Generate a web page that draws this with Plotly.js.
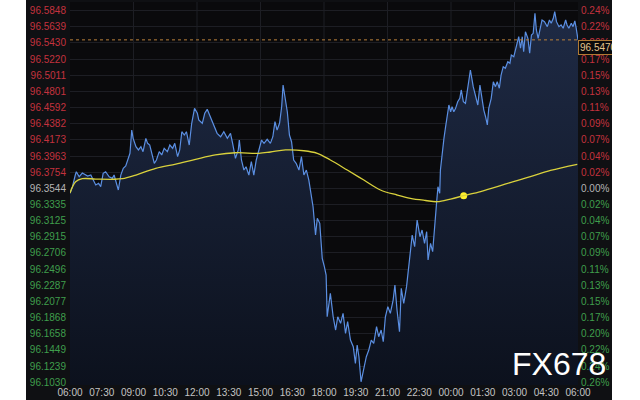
<!DOCTYPE html>
<html>
<head>
<meta charset="utf-8">
<script src="https://cdn.plot.ly/plotly-3.0.1.min.js"></script>
<style>
  html, body { margin:0; padding:0; background:#ffffff; width:640px; height:400px; overflow:hidden; }
  #chart { position:absolute; left:26px; top:0; width:586px; height:400px; }
</style>
</head>
<body>
<div id="chart"></div>
<script>
// ---- data: minutes after 06:00 and USD index price ----
const times = [
  0,7,15,18,26,35,50,59,66,73,
  81,87,94,101,111,120,125,132,137,144,
  151,158,164,170,175,179,187,194,201,207,
  215,220,226,232,239,245,253,260,267,276,
  283,291,297,305,311,317,324,330,338,345,
  353,361,365,375,382,389,398,408,417,427,
  436,446,455,461,469,477,480,486,493,499,
  507,514,521,528,535,543,550,559,568,575,
  581,587,594,600,604,609,616,622,628,634,
  641,649,656,663,670,677,682,689,696,701,
  708,715,721,726,729,738,746,753,759,767,
  774,781,787,795,803,809,814,819,825,833,
  840,847,854,861,869,875,882,888,894,901,
  908,916,921,927,934,939,946,954,959,965,
  970,977,984,992,998,1005,1011,1015,1022,1028,
  1033,1039,1043,1048,1050,1055,1060,1064,1069,1074,
  1079,1083,1088,1093,1099,1105,1109,1115,1121,1128,
  1135,1143,1149,1156,1162,1168,1173,1178,1183,1187,
  1194,1200,1206,1211,1217,1222,1228,1234,1241,1247,
  1251,1258,1263,1269,1272,1277,1282,1286,1291,1298,
  1303,1308,1313,1318,1322,1327,1334,1338,1345,1353,
  1359,1364,1370,1374,1379,1386,1392,1398,1405,1409,
  1414,1421,1426,1431,1435,1438,1440
];
const prices = [
  96.3480,96.3566,96.3717,96.3760,96.3695,96.3743,96.3704,96.3717,96.3652,96.3588,
  96.3610,96.3566,96.3739,96.3760,96.3695,96.3674,96.3717,96.3610,96.3523,96.3717,
  96.3804,96.3834,96.3912,96.3999,96.4301,96.4193,96.4084,96.4042,96.4084,96.4020,
  96.4193,96.4128,96.4106,96.3977,96.3869,96.3912,96.4020,96.3977,96.4063,96.4020,
  96.4106,96.4063,96.4128,96.3955,96.4042,96.4279,96.4236,96.4279,96.4106,96.4388,
  96.4582,96.4518,96.4431,96.4388,96.4518,96.4569,96.4473,96.4366,96.4258,96.4214,
  96.4279,96.4193,96.4258,96.4128,96.3934,96.4042,96.4171,96.3912,96.3782,96.3825,
  96.3717,96.3890,96.3717,96.3912,96.4020,96.4171,96.4128,96.4180,96.4128,96.4214,
  96.4409,96.4301,96.4388,96.4603,96.4885,96.4712,96.4538,96.4236,96.4149,96.3912,
  96.3869,96.3782,96.3955,96.3717,96.3782,96.3652,96.3480,96.3306,96.2939,96.3156,
  96.3091,96.2637,96.2528,96.2420,96.1879,96.2183,96.1879,96.1707,96.1879,96.1794,
  96.1924,96.1664,96.1815,96.1577,96.1490,96.1275,96.1512,96.1361,96.1036,96.1188,
  96.1361,96.1448,96.1577,96.1534,96.1750,96.1620,96.1707,96.1555,96.1879,96.2009,
  96.1924,96.2096,96.2291,96.1966,96.1685,96.2248,96.2053,96.2269,96.2485,96.2702,
  96.2939,96.2787,96.3134,96.2917,96.3004,96.2831,96.2982,96.2615,96.2831,96.2723,
  96.3069,96.3350,96.3566,96.3480,96.3782,96.4020,96.4193,96.4323,96.4495,96.4625,
  96.4538,96.4603,96.4538,96.4582,96.4668,96.4712,96.4820,96.4668,96.4647,96.4885,
  96.5079,96.4863,96.4755,96.4625,96.4885,96.4690,96.4560,96.4473,96.4366,96.4582,
  96.4712,96.4927,96.4863,96.4927,96.4842,96.5014,96.5122,96.5101,96.5187,96.5166,
  96.5274,96.5252,96.5361,96.5446,96.5511,96.5361,96.5511,96.5317,96.5576,96.5490,
  96.5296,96.5533,96.5555,96.5815,96.5598,96.5490,96.5620,96.5728,96.5706,96.5641,
  96.5728,96.5685,96.5750,96.5835,96.5706,96.5641,96.5663,96.5620,96.5728,96.5663,
  96.5620,96.5685,96.5641,96.5715,96.5620,96.5511,96.5470
];
// moving average line
const maTimes = [0,16,35,73,120,149,187,243,300,356,412,469,535,568,611,663,701,738,786,833,880,927,965,1008,1041,1079,1116,1164,1211,1257,1305,1362,1438];
const maValues = [96.3484,96.3630,96.3669,96.3665,96.3662,96.3669,96.3717,96.3804,96.3860,96.3921,96.3977,96.4006,96.3999,96.4016,96.4042,96.4032,96.3999,96.3912,96.3782,96.3652,96.3523,96.3458,96.3415,96.3387,96.3371,96.3406,96.3449,96.3503,96.3566,96.3633,96.3695,96.3776,96.3856];
const dotTime = [1116];
const dotValue = [96.3449];

const prevClose = 96.3544;
const lastPriceLabel = '96.5470';

// axis labels
const priceLabels = ['96.5848','96.5639','96.5430','96.5220','96.5011','96.4801','96.4592','96.4382','96.4173','96.3963','96.3754','96.3544','96.3335','96.3125','96.2915','96.2706','96.2496','96.2287','96.2077','96.1868','96.1658','96.1449','96.1239','96.1030'];
const pctLabels = ['0.24%','0.22%','0.20%','0.17%','0.15%','0.13%','0.11%','0.09%','0.07%','0.04%','0.02%','0.00%','0.02%','0.04%','0.07%','0.09%','0.11%','0.13%','0.15%','0.17%','0.20%','0.22%','0.24%','0.26%'];
const timeLabels = ['06:00','07:30','09:00','10:30','12:00','13:30','15:00','16:30','18:00','19:30','21:00','22:30','00:00','01:30','03:00','04:30','06:00'];
const timeTicks = [0,90,180,270,360,450,540,630,720,810,900,990,1080,1170,1260,1350,1440];
const gridTimes = [180,360,540,720,900,1080,1260];

// ---- build ----
const UP = '#c4323e', DOWN = '#3f9e4c', FLAT = '#b4b4b4';
const priceVals = priceLabels.map(Number);
function colorFor(v){ const d = v - prevClose; return Math.abs(d) < 1e-6 ? FLAT : (d > 0 ? UP : DOWN); }
const leftText = priceLabels.map((s,i)=>'<span style="color:'+colorFor(priceVals[i])+'">'+s+'</span>');
const rightText = pctLabels.map((s,i)=>'<span style="color:'+colorFor(priceVals[i])+'">'+s+'</span>');

const yMin = 96.0994, yMax = 96.5961;
const font = 'Liberation Sans, Arial, sans-serif';

const traces = [
  {
    x: times, y: prices, type:'scatter', mode:'lines',
    line:{color:'#5b8fe2', width:1.2},
    fill:'tozeroy',
    fillgradient:{type:'vertical', start:yMin, stop:yMax,
      colorscale:[[0,'#0c111d'],[1,'#1f2b46']]},
    hoverinfo:'skip'
  },
  {
    x: maTimes, y: maValues, type:'scatter', mode:'lines', yaxis:'y2',
    line:{color:'#d9d13c', width:1.3, shape:'spline', smoothing:1},
    hoverinfo:'skip'
  },
  {
    x: dotTime, y: dotValue, type:'scatter', mode:'markers',
    marker:{color:'#fff02a', size:7},
    hoverinfo:'skip'
  }
];

const shapes = gridTimes.map(t=>({
  type:'line', xref:'x', yref:'paper', x0:t, x1:t, y0:0, y1:1,
  line:{color:'#1d1e24', width:1}, layer:'below'
}));
shapes.push({
  type:'line', xref:'paper', yref:'y', x0:0, x1:1,
  y0:Number(lastPriceLabel), y1:Number(lastPriceLabel),
  line:{color:'#b9803a', width:1, dash:'dot'}, layer:'above'
});

const layout = {
  width:586, height:400,
  margin:{l:44, r:34, t:2, b:15, pad:0},
  paper_bgcolor:'#0f1013',
  plot_bgcolor:'#0a0a0c',
  showlegend:false,
  xaxis:{
    range:[0,1440], tickmode:'array', tickvals:timeTicks, ticktext:timeLabels,
    showgrid:false, zeroline:false, showline:false, ticks:'',
    tickfont:{family:font, size:10, color:'#c4c4c4'}, fixedrange:true
  },
  yaxis:{
    range:[yMin,yMax], tickmode:'array', tickvals:priceVals, ticktext:leftText,
    showgrid:true, gridcolor:'#1d1e24', gridwidth:1, zeroline:false, showline:false,
    ticks:'', ticklabelstandoff:3,
    tickfont:{family:font, size:10, color:FLAT}, fixedrange:true
  },
  yaxis2:{
    overlaying:'y', side:'right',
    range:[yMin,yMax], tickmode:'array', tickvals:priceVals, ticktext:rightText,
    showgrid:false, zeroline:false, showline:false, ticks:'', ticklabelstandoff:2,
    tickfont:{family:font, size:10, color:FLAT}, fixedrange:true
  },
  shapes: shapes,
  annotations:[
    {
      xref:'paper', yref:'y', x:1, y:Number(lastPriceLabel),
      xanchor:'left', yanchor:'top', showarrow:false,
      text:lastPriceLabel, font:{family:font, size:10, color:'#e4c58e'},
      bgcolor:'#0a0a0c', bordercolor:'#b07a34', borderwidth:1, borderpad:1
    },
    {
      xref:'paper', yref:'paper', x:1.059, y:0.055,
      xanchor:'right', yanchor:'middle', showarrow:false,
      text:'FX678', font:{family:font, size:32, color:'#ffffff'}
    }
  ]
};

Plotly.newPlot('chart', traces, layout, {displayModeBar:false, staticPlot:true});
</script>
</body>
</html>
